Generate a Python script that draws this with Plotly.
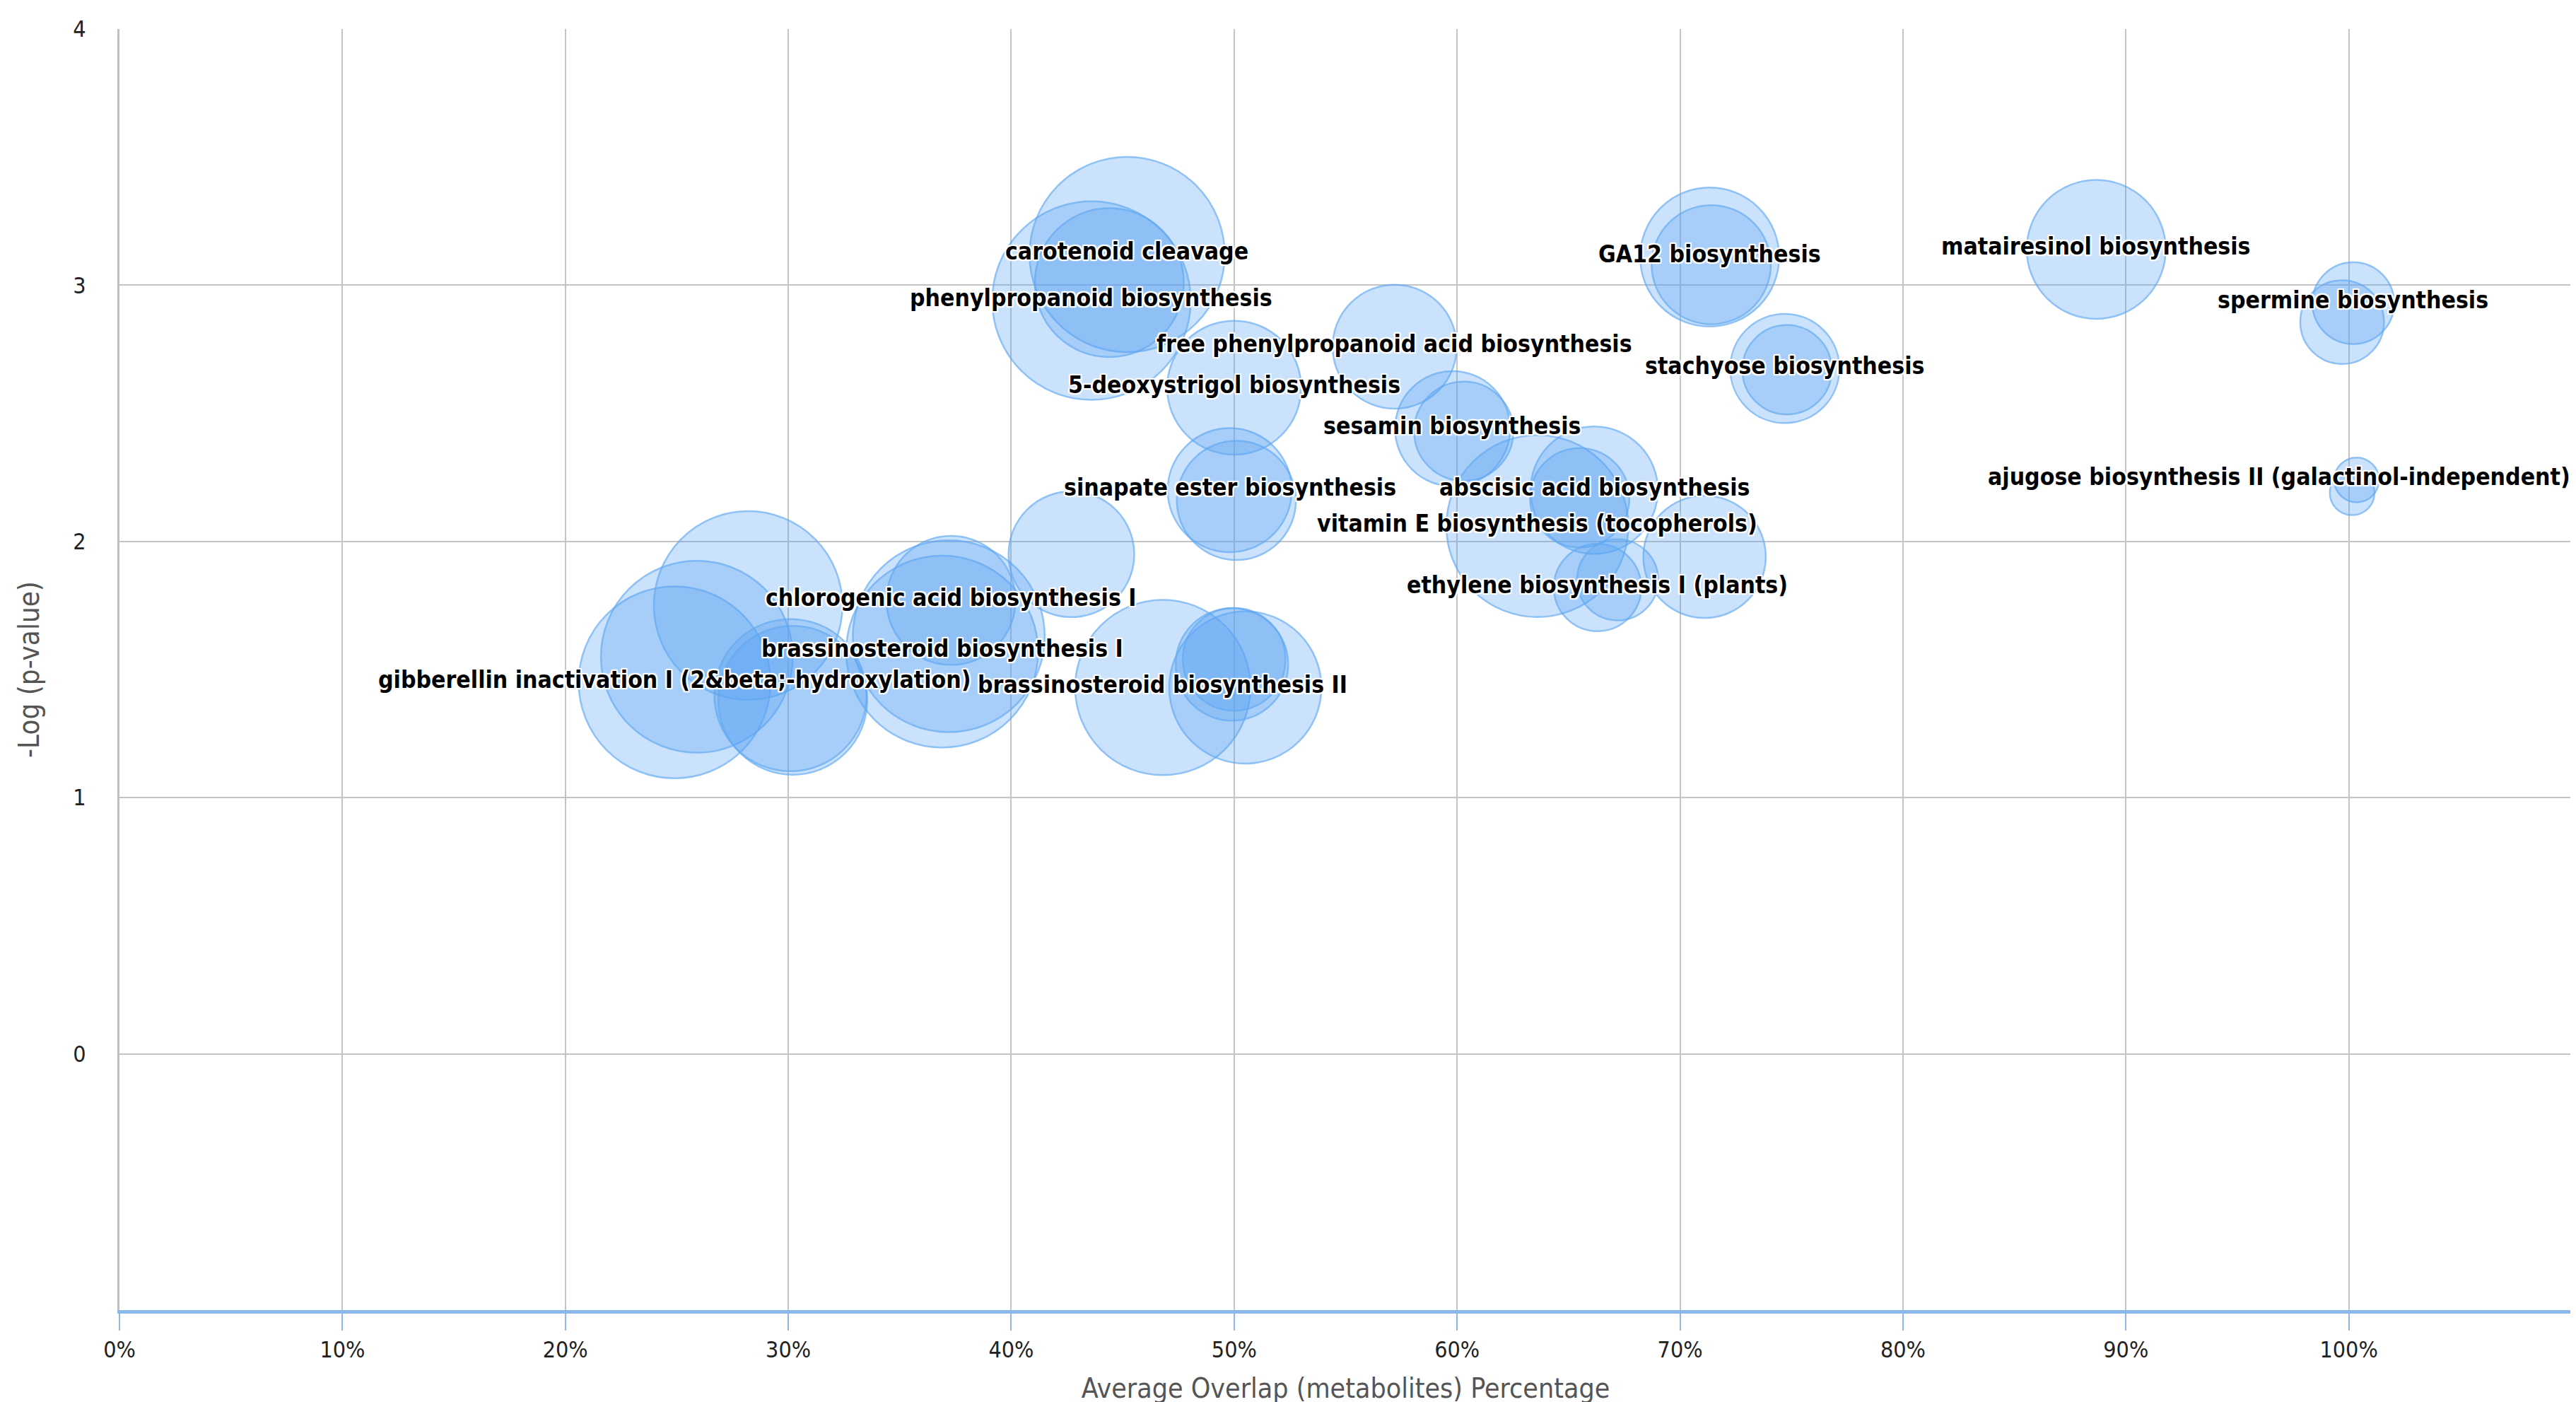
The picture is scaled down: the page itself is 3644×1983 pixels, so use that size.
import plotly.graph_objects as go

# --- data ---
# pathway label ("" = bubble whose label is hidden in the original)
names = [
    "gibberellin inactivation I (2&beta;-hydroxylation)", "", "", "", "",
    "brassinosteroid biosynthesis I", "", "chlorogenic acid biosynthesis I", "",
    "brassinosteroid biosynthesis II", "", "", "",
    "sinapate ester biosynthesis", "", "5-deoxystrigol biosynthesis",
    "carotenoid cleavage", "", "phenylpropanoid biosynthesis",
    "free phenylpropanoid acid biosynthesis",
    "sesamin biosynthesis", "",
    "vitamin E biosynthesis (tocopherols)", "abscisic acid biosynthesis", "",
    "ethylene biosynthesis I (plants)", "", "",
    "GA12 biosynthesis", "", "stachyose biosynthesis", "",
    "matairesinol biosynthesis",
    "spermine biosynthesis", "",
    "ajugose biosynthesis II (galactinol-independent)", "",
]
# average overlap (fraction, shown as %)
overlap = [
    0.249, 0.259, 0.282, 0.301, 0.302,
    0.369, 0.372, 0.373, 0.427,
    0.468, 0.505, 0.499, 0.500,
    0.498, 0.501, 0.500,
    0.452, 0.444, 0.436,
    0.572,
    0.598, 0.603,
    0.636, 0.6615, 0.655,
    0.663, 0.672, 0.711,
    0.7133, 0.714, 0.747, 0.748,
    0.8867,
    1.002, 0.997,
    1.0035, 1.0015,
]
# -log(p-value)
neglogp = [
    1.45, 1.55, 1.75, 1.40, 1.38,
    1.57, 1.63, 1.77, 1.95,
    1.43, 1.43, 1.52, 1.54,
    2.20, 2.16, 2.60,
    3.12, 3.01, 2.94,
    2.76,
    2.44, 2.43,
    2.06, 2.20, 2.17,
    1.82, 1.85, 1.94,
    3.11, 3.08, 2.675, 2.67,
    3.14,
    2.93, 2.856,
    2.24, 2.19,
]
# bubble size value
bubble_z = [
    58, 58, 57, 46, 45,
    58, 58, 39, 38,
    53, 46, 34, 31,
    37.5, 36, 40.5,
    59, 45, 60,
    37.5,
    34.8, 30,
    55, 38.5, 30,
    26.4, 24.5, 37,
    42, 36, 33, 27,
    42,
    24.7, 25.3,
    13.5, 13.5,
]
# labels that Highcharts pushed back inside the plot (justified to the right edge)
justify_right = ["ajugose biosynthesis II (galactinol-independent)"]

x_ticks = [0, 0.1, 0.2, 0.3, 0.4, 0.5, 0.6, 0.7, 0.8, 0.9, 1.0, 1.1]
x_ticktext = ["0%", "10%", "20%", "30%", "40%", "50%", "60%", "70%", "80%", "90%", "100%", ""]
y_ticks = [0, 1, 2, 3, 4]

X_MAX = 1.1
SCALE = 2.339  # picture px -> window px

FONT = "DejaVu Sans Condensed, DejaVu Sans, sans-serif"
OUTLINE = ("white 2px 0px 1px, white -2px 0px 1px, white 0px 2px 1px, white 0px -2px 1px, "
           "white 2px 2px 1px, white -2px -2px 1px, white 2px -2px 1px, white -2px 2px 1px")

fig = go.Figure()

fig.add_trace(go.Scatter(
    x=overlap, y=neglogp,
    mode="markers",
    marker=dict(
        size=bubble_z,
        sizemode="diameter",
        sizeref=1 / (2 * SCALE),
        color="rgba(90,165,245,0.45)",
        line=dict(color="rgb(95,168,242)", width=2.5),
    ),
    hovertext=names,
    hoverinfo="text",
    showlegend=False,
    cliponaxis=False,
))

# data labels, bold with a white outline like the original
for name, xv, yv in zip(names, overlap, neglogp):
    if not name:
        continue
    if name in justify_right:
        ax_x, anchor = X_MAX, "right"
    else:
        ax_x, anchor = xv, "center"
    fig.add_annotation(
        x=ax_x, y=yv, xref="x", yref="y",
        text=name, showarrow=False,
        xanchor=anchor, yanchor="middle", yshift=4,
        font=dict(family=FONT, size=33.5, color="#000000", weight="bold", shadow=OUTLINE),
    )

fig.update_layout(
    width=3644, height=1983,
    margin=dict(l=161, r=11, t=33, b=131),
    paper_bgcolor="white",
    plot_bgcolor="white",
    font=dict(family=FONT, size=32, color="#222222"),
    xaxis=dict(
        range=[0, X_MAX],
        tickvals=x_ticks, ticktext=x_ticktext,
        showgrid=True, gridcolor="#c4c4c4", gridwidth=2,
        zeroline=False,
        showline=True, linecolor="#8ab9ea", linewidth=5,
        ticks="outside", ticklen=24, tickwidth=2, tickcolor="#8ab9ea",
        tickfont=dict(size=32, color="#222222"),
        title=dict(text="Average Overlap (metabolites) Percentage",
                   font=dict(size=39, color="#555555"), standoff=24),
    ),
    yaxis=dict(
        range=[-1, 4],
        tickvals=y_ticks,
        showgrid=True, gridcolor="#c4c4c4", gridwidth=2,
        zeroline=False,
        showline=True, linecolor="#c0c0c0", linewidth=3, mirror=True,
        ticks="", ticklabelstandoff=38,
        tickfont=dict(size=32, color="#222222"),
        title=dict(text="-Log (p-value)",
                   font=dict(size=40, color="#555555"), standoff=36),
    ),
)

fig.write_html("out.html")
